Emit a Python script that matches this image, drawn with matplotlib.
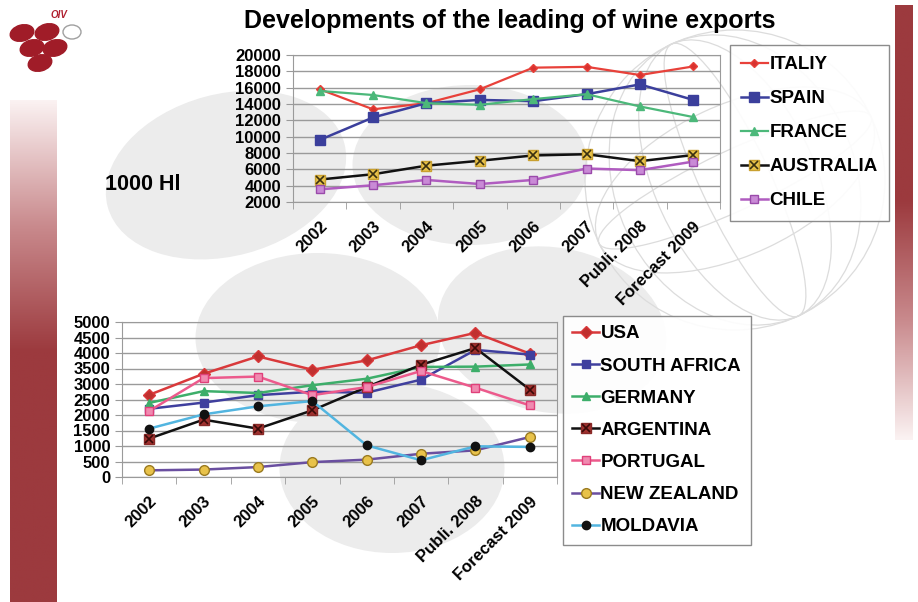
import numpy as np
import matplotlib
matplotlib.use('Agg')
import matplotlib.pyplot as plt
from matplotlib.patches import Ellipse, Circle
from matplotlib.colors import LinearSegmentedColormap
from matplotlib.transforms import ScaledTranslation

plt.rcParams['font.family'] = ['Liberation Sans', 'DejaVu Sans']
plt.rcParams['font.weight'] = 'bold'

# ---- data ----
years = ['2002', '2003', '2004', '2005', '2006', '2007', 'Publi. 2008', 'Forecast 2009']

italy = [15800, 13350, 14100, 15800, 18450, 18550, 17550, 18600]
spain = [9600, 12350, 14100, 14500, 14350, 15200, 16400, 14500]
france = [15600, 15100, 14100, 13900, 14600, 15200, 13700, 12400]
australia = [4750, 5400, 6450, 7050, 7700, 7850, 7000, 7750]
chile = [3550, 4050, 4700, 4200, 4700, 6100, 5900, 6950]

usa = [2650, 3330, 3890, 3460, 3760, 4250, 4650, 3980]
south_africa = [2200, 2400, 2640, 2750, 2720, 3140, 4100, 3950]
germany = [2390, 2770, 2710, 2960, 3170, 3550, 3560, 3630]
argentina = [1240, 1850, 1560, 2150, 2900, 3620, 4160, 2820]
portugal = [2130, 3190, 3240, 2640, 2900, 3420, 2880, 2310]
new_zealand = [215, 240, 320, 480, 560, 750, 860, 1290]
moldavia = [1560, 2020, 2280, 2450, 1020, 540, 990, 970]

W, H = 918, 602
fig = plt.figure(figsize=(W / 100, H / 100), dpi=100)

# ---- background decoration (pixel coordinates) ----
bg = fig.add_axes([0, 0, 1, 1], zorder=0)
bg.set_xlim(0, W)
bg.set_ylim(H, 0)
bg.axis('off')

grey = '#ececec'
for (cx, cy, w, h, ang) in [(226, 175, 245, 162, -15), (470, 165, 235, 160, 0),
                             (318, 338, 245, 170, 0), (552, 330, 230, 165, 10),
                             (392, 468, 225, 170, 0)]:
    bg.add_patch(Ellipse((cx, cy), w, h, angle=ang, color=grey, lw=0))

# globe wireframe (tilted)
gc = '#dcdcdc'
gx, gy, gr = 735, 180, 150
bg.add_patch(Circle((gx, gy), gr, fill=False, ec=gc, lw=0.9))
for mw in [70, 160, 240]:
    bg.add_patch(Ellipse((gx, gy), mw, 2 * gr, angle=-25, fill=False, ec=gc, lw=0.9))
for mh in [60, 150]:
    bg.add_patch(Ellipse((gx, gy), 2 * gr, mh, angle=-25, fill=False, ec=gc, lw=0.9))

# side bars
cm_bar = LinearSegmentedColormap.from_list('bar', ['#fbf2f2', '#c98a8d', '#9c3a3e'])
left_grad = np.clip(np.linspace(0, 1, 256) / 0.5, 0, 1)[:, None]
bg.imshow(left_grad, extent=(10, 57, 602, 100), cmap=cm_bar, aspect='auto', zorder=1)
right_grad = 1 - np.clip((np.linspace(0, 1, 256) - 0.45) / 0.55, 0, 1)
bg.imshow(right_grad[:, None], extent=(895, 913, 440, 5), cmap=cm_bar,
          aspect='auto', zorder=1)

# logo
for (cx, cy) in [(22, 33), (47, 32), (32, 48), (55, 48), (40, 63)]:
    bg.add_patch(Ellipse((cx, cy), 24, 16, angle=-15, color='#a01c28', zorder=2))
bg.add_patch(Ellipse((72, 32), 18, 14, fill=False, ec='#a0a0a0', lw=1, zorder=2))
bg.text(59, 15, 'OIV', color='#b02030', fontsize=7, style='italic', weight='bold',
        ha='center', va='center')

# titles
bg.text(510, 21, 'Developments of the leading of wine exports', fontsize=18,
        weight='bold', ha='center', va='center')
bg.text(143, 184, '1000 Hl', fontsize=15.5, weight='bold', ha='center', va='center')


def style_axes(ax, ymin, ymax, step, fsize):
    ax.set_facecolor('none')
    ax.set_xlim(-0.5, 7.5)
    ax.set_ylim(ymin, ymax)
    ax.set_yticks(np.arange(ymin, ymax + 1, step))
    ax.yaxis.grid(True, color='#9a9a9a', lw=1)
    ax.set_axisbelow(True)
    for s in ax.spines.values():
        s.set_color('#9a9a9a')
    ax.set_xticks(range(len(years)))
    ax.set_xticklabels(years, rotation=45, ha='right', va='center',
                       rotation_mode='anchor', fontsize=12, weight='bold')
    ax.set_xticks(np.arange(-0.5, 8, 1), minor=True)
    ax.tick_params(axis='x', which='major', length=0, pad=16)
    ax.tick_params(axis='x', which='minor', length=5, color='#9a9a9a')
    ax.tick_params(axis='y', length=5, color='#9a9a9a', labelsize=fsize)
    for lab in ax.get_yticklabels():
        lab.set_fontweight('bold')
    shift = ScaledTranslation(5 / 100, 0, fig.dpi_scale_trans)
    for lab in ax.get_xticklabels():
        lab.set_transform(lab.get_transform() + shift)


x = np.arange(len(years))

# ---- top chart ----
ax1 = fig.add_axes([293 / W, 1 - 202 / H, 427 / W, 147 / H], zorder=2)
style_axes(ax1, 2000, 20000, 2000, 12)
l_it, = ax1.plot(x, italy, color='#e8413a', lw=1.6, marker='D', ms=4, mfc='#d8322f')
l_sp, = ax1.plot(x, spain, color='#3b3f9c', lw=1.8, marker='s', ms=7, mfc='#3b3f9c')
l_fr, = ax1.plot(x, france, color='#4cb87a', lw=1.6, marker='^', ms=6, mfc='#4cb87a')
l_au, = ax1.plot(x, australia, color='#111111', lw=1.8, marker='s', ms=7.5, mfc='#e8c24a',
                 mec='#c9a030')
l_au2, = ax1.plot(x, australia, ls='none', marker='x', ms=6, mec='#3a3010', mew=1.2)
l_ch, = ax1.plot(x, chile, color='#b05cc0', lw=1.8, marker='s', ms=6, mfc='#c98ad6',
                 mec='#9a4aaa')

fig.legend([l_it, l_sp, l_fr, (l_au, l_au2), l_ch],
           ['ITALIY', 'SPAIN', 'FRANCE', 'AUSTRALIA', 'CHILE'],
           loc='upper left', bbox_to_anchor=(730 / W, 1 - 45 / H),
           bbox_transform=fig.transFigure, prop={'weight': 'bold', 'size': 13.5},
           handlelength=1.4, handletextpad=0.1, labelspacing=0.9, borderpad=0.6,
           borderaxespad=0, fancybox=False, edgecolor='#808080', framealpha=0.9)

# ---- bottom chart ----
ax2 = fig.add_axes([122 / W, 1 - 477 / H, 435 / W, 155 / H], zorder=2)
style_axes(ax2, 0, 5000, 500, 12)
l_us, = ax2.plot(x, usa, color='#d9393b', lw=1.8, marker='D', ms=6, mfc='#c0302f')
l_sa, = ax2.plot(x, south_africa, color='#3f3f9e', lw=1.8, marker='s', ms=6, mfc='#3f3f9e')
l_ge, = ax2.plot(x, germany, color='#3dae6a', lw=1.8, marker='^', ms=6, mfc='#3dae6a')
l_ar, = ax2.plot(x, argentina, color='#111111', lw=1.8, marker='s', ms=7, mfc='#a0312f',
                 mec='#8a2a28')
l_ar2, = ax2.plot(x, argentina, ls='none', marker='x', ms=5.5, mec='#3a0a08', mew=1.2)
l_po, = ax2.plot(x, portugal, color='#ec5a8c', lw=1.8, marker='s', ms=6, mfc='#f08ab0',
                 mec='#e0407a')
l_nz, = ax2.plot(x, new_zealand, color='#6a4fa0', lw=1.8, marker='o', ms=7, mfc='#e8c24a',
                 mec='#9a7a20')
l_mo, = ax2.plot(x, moldavia, color='#52b5e0', lw=1.8, marker='o', ms=6, mfc='#111111',
                 mec='#111111')

fig.legend([l_us, l_sa, l_ge, (l_ar, l_ar2), l_po, l_nz, l_mo],
           ['USA', 'SOUTH AFRICA', 'GERMANY', 'ARGENTINA', 'PORTUGAL',
            'NEW ZEALAND', 'MOLDAVIA'],
           loc='upper left', bbox_to_anchor=(563 / W, 1 - 316 / H),
           bbox_transform=fig.transFigure, prop={'weight': 'bold', 'size': 13.5},
           handlelength=1.4, handletextpad=0.1, labelspacing=0.8, borderpad=0.5,
           borderaxespad=0, fancybox=False, edgecolor='#808080', framealpha=0.9)

fig.savefig('out.png', dpi=100)
